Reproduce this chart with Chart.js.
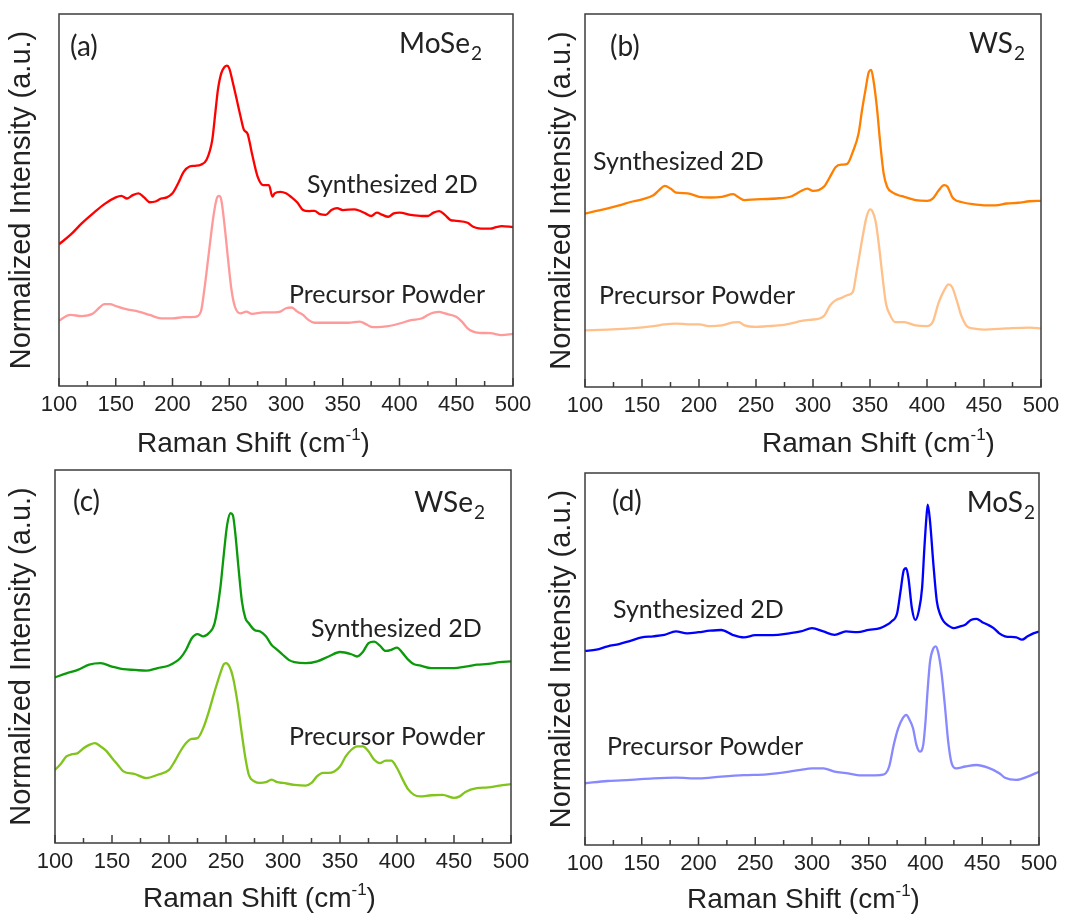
<!DOCTYPE html>
<html>
<head>
<meta charset="utf-8">
<title>Raman spectra</title>
<script src="https://cdn.jsdelivr.net/npm/chart.js@4.4.1/dist/chart.umd.min.js"></script>
<style>
  body { margin: 0; background: #fff; }
  .panel { position: absolute; }
</style>
</head>
<body>
<div class="panel" style="left:0;top:0;width:542px;height:457px"><canvas id="chartA"></canvas></div>
<div class="panel" style="left:542px;top:0;width:543px;height:457px"><canvas id="chartB"></canvas></div>
<div class="panel" style="left:0;top:457px;width:542px;height:457px"><canvas id="chartC"></canvas></div>
<div class="panel" style="left:542px;top:457px;width:543px;height:457px"><canvas id="chartD"></canvas></div>
<script>
// Raman shift (cm-1) and normalized intensity (offset, arbitrary units)
const xTicks = [100, 150, 200, 250, 300, 350, 400, 450, 500];

// (a) MoSe2
const moSe2SynthShift = [100,110,120,130,140,150,155,160,165,170,175,180,185,190,195,200,205,210,215,220,225,230,235,238,240,243,246,248,250,253,256,260,263,266,270,275,280,285,288,290,295,300,305,310,315,320,325,330,335,340,345,350,360,365,370,375,380,385,390,395,400,410,420,425,430,435,440,445,450,460,465,470,480,485,490,500];
const moSe2SynthInt = [38.1,40.6,43.7,46.4,48.9,50.7,51.1,50.4,51.3,51.8,50.7,49.4,49.6,50.4,50.7,51.8,54.5,57.6,59.0,59.2,59.5,60.8,66.1,74.2,79.6,84.1,85.8,86.1,85.4,81.8,77.8,72.4,68.8,67.9,62.5,56.3,54.0,54.0,50.9,51.8,52.2,51.8,50.7,49.3,47.3,47.0,47.1,46.2,46.0,47.3,47.8,47.3,47.5,47.1,46.4,45.7,46.6,46.0,45.5,46.4,46.6,46.0,45.7,45.7,46.6,47.0,46.0,44.6,44.4,43.9,42.8,42.4,42.3,42.7,43.0,42.7];
const moSe2PowderShift = [100,110,120,130,135,140,145,150,160,170,180,190,200,210,220,225,228,232,236,239,241,243,246,249,252,255,260,265,270,280,290,295,300,305,310,315,320,325,335,345,355,365,370,375,380,390,400,410,420,425,430,435,440,450,455,460,465,470,480,490,500];
const moSe2PowderInt = [17.6,19.1,18.8,19.5,20.9,22.0,22.0,21.5,20.6,20.0,19.1,18.2,18.2,18.5,18.6,20.0,25.8,35.7,45.5,50.4,51.1,50.0,42.8,33.9,25.8,21.3,19.5,20.0,19.4,19.8,19.8,20.0,20.9,21.1,20.0,19.1,17.7,17.0,17.0,17.0,17.0,17.3,16.7,15.9,15.8,16.1,16.8,17.7,18.2,19.1,19.7,19.9,19.5,18.6,17.3,15.5,14.6,14.3,14.2,13.7,14.0];

// (b) WS2
const ws2SynthShift = [100,110,120,130,140,150,160,165,170,175,180,190,200,210,220,230,235,240,250,260,270,280,290,295,300,305,310,315,320,325,330,335,340,343,346,349,351,353,356,359,362,365,370,375,380,390,400,405,410,415,418,422,425,430,440,450,460,470,480,490,500];
const ws2SynthInt = [46.5,47.2,47.9,48.7,49.6,50.3,51.4,52.8,53.9,53.2,52.1,51.9,51.0,50.8,51.0,51.7,50.8,50.1,50.3,50.4,50.6,51.0,52.6,53.2,52.6,52.8,53.8,56.4,59.0,59.6,59.8,63.1,68.0,74.2,79.6,84.5,85.0,82.3,75.1,65.3,57.2,53.7,52.1,51.4,51.0,50.1,49.9,50.5,52.6,54.1,53.7,51.0,50.1,49.6,49.0,48.7,48.7,49.2,49.4,49.8,49.9];
const ws2PowderShift = [100,120,140,160,170,180,190,200,210,220,230,235,240,250,260,270,280,290,300,305,310,315,320,325,330,335,338,341,344,347,350,352,355,358,361,364,367,372,380,390,400,405,410,415,419,422,426,430,435,440,450,470,490,500];
const ws2PowderInt = [15.2,15.4,15.7,16.3,16.8,17.0,16.8,16.8,16.3,16.5,17.3,17.4,16.5,16.1,16.3,16.5,17.0,17.7,18.1,18.3,19.2,21.9,23.3,23.9,24.6,25.5,30.4,35.8,41.1,45.6,47.6,47.2,44.3,37.6,29.5,22.4,19.7,17.4,17.4,16.5,16.3,17.4,22.4,25.9,27.5,26.8,23.3,19.2,16.3,15.7,15.4,15.7,15.9,15.7];

// (c) WSe2
const wse2SynthShift = [100,110,120,130,140,150,160,170,180,190,200,210,215,220,225,230,235,240,245,248,251,254,256,258,261,264,267,270,275,280,285,290,295,300,305,310,320,330,340,350,360,365,370,375,380,385,390,395,400,405,410,415,420,430,440,450,460,470,480,490,500];
const wse2SynthInt = [44.4,45.5,46.4,47.8,48.2,47.3,46.6,46.4,46.2,46.9,47.6,49.6,51.8,54.9,56.0,55.4,56.3,58.9,68.3,77.2,85.3,88.4,87.9,83.5,73.7,64.7,60.3,58.9,57.1,56.7,55.4,53.1,51.8,50.4,49.1,48.5,48.2,48.7,50.0,51.2,50.6,50.0,51.2,53.6,54.0,52.9,51.5,51.8,52.4,50.9,49.1,47.9,47.6,46.9,46.9,46.9,47.3,47.8,48.0,48.5,48.7];
const wse2PowderShift = [100,105,110,115,120,125,130,135,140,145,150,155,160,170,180,190,200,205,210,215,220,225,230,235,240,245,248,250,253,256,260,264,267,270,275,280,285,290,295,300,310,320,325,330,335,340,345,350,355,360,365,370,375,380,385,390,395,400,405,410,415,420,430,440,450,455,460,470,480,490,500];
const wse2PowderInt = [19.6,21.2,23.2,23.8,24.1,25.4,26.3,26.8,25.9,24.7,22.8,21.0,19.2,18.5,17.4,18.3,19.6,21.9,24.6,26.8,27.9,28.1,30.8,35.3,40.6,45.5,47.9,48.2,47.3,44.6,37.9,29.0,22.8,18.3,16.5,16.1,16.3,17.0,16.3,16.1,15.6,15.4,16.1,17.9,18.8,18.8,19.2,20.5,23.2,25.0,25.9,25.9,24.6,22.3,21.4,22.1,22.1,20.1,17.0,14.3,12.9,12.5,12.8,12.9,12.1,12.5,13.7,14.7,14.9,15.4,15.8];

// (d) MoS2
const mos2SynthShift = [100,110,120,130,140,150,160,170,180,190,200,210,220,230,240,250,260,270,280,290,300,310,320,330,340,350,360,365,370,375,378,381,383,385,388,391,394,397,399,401,402,404,407,410,413,416,420,425,430,435,440,445,450,455,460,465,470,480,485,490,495,500];
const mos2SynthInt = [52.2,52.5,53.4,54.0,54.9,55.8,56.1,56.5,57.4,56.9,57.2,57.6,57.8,56.5,55.8,56.4,56.4,56.5,56.9,57.4,58.3,57.4,56.5,57.4,57.2,57.8,58.3,59.0,60.1,62.3,68.2,74.0,74.4,71.7,63.7,60.5,62.8,69.1,79.8,88.8,91.5,87.0,75.3,65.5,61.9,60.1,59.0,58.3,58.7,59.2,60.5,60.8,59.9,59.2,58.3,56.9,56.1,55.8,55.2,56.1,56.9,57.4];
const mos2PowderShift = [100,120,140,160,180,200,220,240,260,280,290,300,310,320,330,340,350,360,365,368,372,376,380,383,386,389,392,395,398,400,402,404,407,409,411,414,417,420,423,427,435,445,455,465,470,480,490,500];
const mos2PowderInt = [16.6,17.2,17.5,17.9,18.1,17.9,18.4,18.8,19.0,19.7,20.2,20.6,20.6,19.7,19.3,18.8,18.7,18.8,19.3,21.1,26.9,31.4,34.1,35.0,33.6,31.4,26.9,25.1,26.9,33.2,42.2,49.3,52.9,53.4,52.0,46.6,37.7,27.8,22.0,20.6,21.1,21.5,20.8,19.3,18.1,17.5,18.4,19.7];

const toPoints = (xs, ys) => xs.map((x, i) => ({ x: x, y: ys[i] }));

const textColor = '#222';
const noteFont = '25px Lato, "Open Sans", sans-serif';
const tagFont = '28px Lato, "Open Sans", sans-serif';
const subFont = '19px Lato, "Open Sans", sans-serif';

// frame, inward ticks and the text annotations of each panel
const panelDecor = {
  id: 'panelDecor',
  afterDraw(chart, args, o) {
    const { ctx, chartArea: a } = chart;
    const xs = chart.scales.x;
    ctx.save();
    ctx.strokeStyle = '#3c3c3c';
    ctx.lineWidth = 1.5;
    ctx.strokeRect(a.left, a.top, a.right - a.left, a.bottom - a.top);
    for (let v = xs.min; v <= xs.max; v += 25) {
      const px = xs.getPixelForValue(v);
      const len = v % 50 === 0 ? 8 : 5;
      ctx.beginPath();
      ctx.moveTo(px, a.bottom);
      ctx.lineTo(px, a.bottom - len);
      ctx.stroke();
    }

    ctx.fillStyle = textColor;
    ctx.textBaseline = 'alphabetic';
    ctx.textAlign = 'left';
    ctx.font = tagFont;
    ctx.fillText(o.tag, o.tagPos[0], o.tagPos[1]);
    ctx.font = noteFont;
    ctx.fillText('Synthesized 2D', o.synthPos[0], o.synthPos[1]);
    ctx.fillText('Precursor Powder', o.powderPos[0], o.powderPos[1]);

    // compound name with subscript, right aligned
    ctx.font = subFont;
    const subW = ctx.measureText('2').width;
    ctx.font = tagFont;
    const mainW = ctx.measureText(o.compound).width;
    const cx = o.compoundPos[0] - subW - mainW;
    ctx.fillText(o.compound, cx, o.compoundPos[1]);
    ctx.font = subFont;
    ctx.fillText('2', cx + mainW + 1, o.compoundPos[1] + 7);

    // x axis title with superscript
    const tFont = '28px "Liberation Sans", Arial, sans-serif';
    const sFont = '17px "Liberation Sans", Arial, sans-serif';
    let tx = o.xTitlePos[0];
    const ty = o.xTitlePos[1];
    ctx.font = tFont;
    ctx.fillText('Raman Shift (cm', tx, ty);
    tx += ctx.measureText('Raman Shift (cm').width;
    ctx.font = sFont;
    ctx.fillText('-1', tx, ty - 12);
    tx += ctx.measureText('-1').width;
    ctx.font = tFont;
    ctx.fillText(')', tx, ty);
    ctx.restore();
  }
};

function makePanel(id, series, box, deco) {
  return new Chart(document.getElementById(id), {
    type: 'line',
    data: {
      datasets: series.map(s => ({
        data: toPoints(s.x, s.y),
        borderColor: s.color,
        borderWidth: 2.3,
        pointRadius: 0,
        cubicInterpolationMode: 'monotone',
        fill: false
      }))
    },
    options: {
      responsive: true,
      maintainAspectRatio: false,
      animation: false,
      events: [],
      layout: { padding: { top: box.top, right: box.right, left: 0, bottom: 0 } },
      plugins: {
        legend: { display: false },
        tooltip: { enabled: false },
        panelDecor: deco
      },
      scales: {
        x: {
          type: 'linear',
          min: 100,
          max: 500,
          afterBuildTicks: s => { s.ticks = xTicks.map(v => ({ value: v })); },
          ticks: {
            autoSkip: false,
            maxRotation: 0,
            padding: 6,
            color: textColor,
            font: { family: '"Liberation Sans", Arial, sans-serif', size: 22 }
          },
          grid: { display: false, drawTicks: false },
          border: { display: false },
          afterFit: s => { s.height = box.xHeight; }
        },
        y: {
          type: 'linear',
          min: 0,
          max: 100,
          ticks: { display: false },
          grid: { display: false, drawTicks: false },
          border: { display: false },
          title: {
            display: true,
            text: 'Normalized Intensity (a.u.)',
            color: textColor,
            padding: { top: box.yTitlePad, bottom: 0 },
            font: { family: '"Liberation Sans", Arial, sans-serif', size: 29 }
          },
          afterFit: s => { s.width = box.yWidth; }
        }
      }
    },
    plugins: [panelDecor]
  });
}

makePanel('chartA', [
  { x: moSe2SynthShift, y: moSe2SynthInt, color: '#ff0000' },
  { x: moSe2PowderShift, y: moSe2PowderInt, color: '#ff9a9a' }
], { top: 14, right: 29, yWidth: 59, xHeight: 71, yTitlePad: 5 }, {
  tag: '(a)', tagPos: [70, 56], compound: 'MoSe', compoundPos: [481, 53],
  synthPos: [307, 193], powderPos: [289, 303], xTitlePos: [137, 452]
});

makePanel('chartB', [
  { x: ws2SynthShift, y: ws2SynthInt, color: '#ff7f00' },
  { x: ws2PowderShift, y: ws2PowderInt, color: '#ffc08a' }
], { top: 14, right: 44, yWidth: 43, xHeight: 70, yTitlePad: 3 }, {
  tag: '(b)', tagPos: [68, 56], compound: 'WS', compoundPos: [482, 53],
  synthPos: [51, 170], powderPos: [57, 304], xTitlePos: [220, 452]
});

makePanel('chartC', [
  { x: wse2SynthShift, y: wse2SynthInt, color: '#0a9a0a' },
  { x: wse2PowderShift, y: wse2PowderInt, color: '#80c41c' }
], { top: 13, right: 31, yWidth: 55, xHeight: 71, yTitlePad: 5 }, {
  tag: '(c)', tagPos: [73, 54], compound: 'WSe', compoundPos: [484, 55],
  synthPos: [311, 180], powderPos: [289, 288], xTitlePos: [143, 450]
});

makePanel('chartD', [
  { x: mos2SynthShift, y: mos2SynthInt, color: '#0000ff' },
  { x: mos2PowderShift, y: mos2PowderInt, color: '#8888ff' }
], { top: 16, right: 46, yWidth: 43, xHeight: 69, yTitlePad: 3 }, {
  tag: '(d)', tagPos: [70, 54], compound: 'MoS', compoundPos: [492, 55],
  synthPos: [71, 161], powderPos: [65, 298], xTitlePos: [145, 451]
});
</script>
</body>
</html>
